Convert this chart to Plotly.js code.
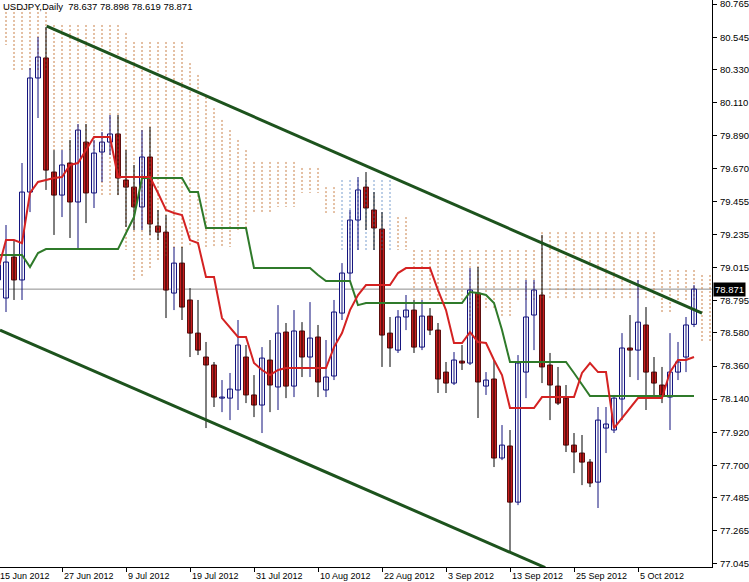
<!DOCTYPE html>
<html><head><meta charset="utf-8">
<script src="https://cdn.plot.ly/plotly-3.0.1.min.js"></script>
<style>html,body{margin:0;padding:0;background:#fff}#chart{width:749px;height:582px}</style>
</head><body><div id="chart"></div>
<script>
// ---- Data (USDJPY daily) ----
const dates = [
"15 Jun 2012","18 Jun 2012","19 Jun 2012","20 Jun 2012","21 Jun 2012","22 Jun 2012","25 Jun 2012","26 Jun 2012","27 Jun 2012","28 Jun 2012","29 Jun 2012",
"2 Jul 2012","3 Jul 2012","4 Jul 2012","5 Jul 2012","6 Jul 2012","9 Jul 2012","10 Jul 2012","11 Jul 2012","12 Jul 2012","13 Jul 2012",
"16 Jul 2012","17 Jul 2012","18 Jul 2012","19 Jul 2012","20 Jul 2012","23 Jul 2012","24 Jul 2012","25 Jul 2012","26 Jul 2012","27 Jul 2012","30 Jul 2012","31 Jul 2012",
"1 Aug 2012","2 Aug 2012","3 Aug 2012","6 Aug 2012","7 Aug 2012","8 Aug 2012","9 Aug 2012","10 Aug 2012","13 Aug 2012","14 Aug 2012","15 Aug 2012","16 Aug 2012","17 Aug 2012",
"20 Aug 2012","21 Aug 2012","22 Aug 2012","23 Aug 2012","24 Aug 2012","27 Aug 2012","28 Aug 2012","29 Aug 2012","30 Aug 2012","31 Aug 2012",
"3 Sep 2012","4 Sep 2012","5 Sep 2012","6 Sep 2012","7 Sep 2012","10 Sep 2012","11 Sep 2012","12 Sep 2012","13 Sep 2012","14 Sep 2012",
"17 Sep 2012","18 Sep 2012","19 Sep 2012","20 Sep 2012","21 Sep 2012","24 Sep 2012","25 Sep 2012","26 Sep 2012","27 Sep 2012","28 Sep 2012",
"1 Oct 2012","2 Oct 2012","3 Oct 2012","4 Oct 2012","5 Oct 2012","8 Oct 2012","9 Oct 2012","10 Oct 2012","11 Oct 2012","12 Oct 2012","15 Oct 2012","16 Oct 2012"];

const open = [78.932,78.812,79.084,78.932,79.516,80.274,80.407,79.649,79.496,79.709,79.450,
79.848,79.510,79.782,79.848,79.902,79.596,79.549,79.417,79.749,79.290,
79.250,78.845,79.044,78.799,78.579,78.420,78.367,78.147,78.147,78.201,78.420,78.168,
78.101,78.400,78.221,78.586,78.227,78.593,78.420,78.553,78.201,78.294,78.712,78.978,79.330,
79.549,79.397,79.270,78.579,78.466,78.686,78.732,78.486,78.692,78.599,
78.320,78.247,78.393,78.380,78.845,78.227,78.274,77.749,77.829,77.456,
78.320,78.699,78.832,78.367,78.227,78.147,77.835,77.782,77.722,77.589,
77.948,77.935,78.141,78.480,78.466,78.633,78.320,78.234,78.154,78.320,78.420,78.637];
const high = [79.330,79.297,79.197,79.709,80.340,80.546,80.613,79.795,79.795,79.862,79.968,
79.968,79.862,79.915,80.028,80.028,79.795,79.696,79.928,79.948,79.397,
79.363,79.151,79.151,78.878,78.799,78.520,78.387,78.267,78.314,78.666,78.500,78.300,
78.486,78.533,78.765,78.646,78.732,78.652,78.785,78.633,78.533,78.799,79.044,79.397,79.616,
79.649,79.516,79.383,78.686,78.732,78.832,78.799,78.799,78.745,78.646,
78.387,78.453,78.500,79.011,79.018,78.320,78.400,77.968,77.935,78.433,
78.932,78.932,79.231,78.447,78.354,78.234,77.915,77.902,77.742,78.088,
78.088,78.168,78.579,78.699,78.932,78.752,78.420,78.354,78.579,78.520,78.686,78.898];
const low = [78.652,78.719,78.799,78.799,79.383,80.008,79.530,79.231,79.350,79.211,79.131,
79.310,79.410,79.583,79.762,79.496,79.284,79.264,79.264,79.231,79.197,
78.679,78.732,78.666,78.420,78.433,77.948,78.088,78.054,78.001,78.068,78.114,78.021,
77.915,78.054,78.068,78.147,78.154,78.287,78.287,78.154,78.154,78.267,78.666,78.932,79.131,
79.264,79.131,78.354,78.354,78.447,78.599,78.447,78.466,78.566,78.181,
78.181,78.234,78.334,78.367,78.015,78.168,77.689,77.735,77.124,77.436,
78.147,78.466,78.247,78.001,78.101,77.789,77.649,77.569,77.556,77.417,
77.782,77.915,78.001,78.287,78.267,78.068,78.154,78.114,77.935,78.267,78.320,78.619];
const close = [79.031,79.051,78.932,79.516,80.274,80.413,79.662,79.496,79.696,79.450,79.928,
79.510,79.775,79.848,79.902,79.609,79.549,79.417,79.749,79.304,79.250,
78.865,79.044,78.752,78.579,78.466,78.367,78.154,78.154,78.207,78.500,78.168,78.101,
78.413,78.234,78.579,78.227,78.593,78.420,78.546,78.254,78.287,78.719,78.978,79.330,79.530,
79.410,79.277,78.566,78.480,78.686,78.732,78.486,78.692,78.599,78.274,
78.247,78.400,78.380,78.865,78.254,78.267,77.749,77.835,77.456,78.380,
78.686,78.865,78.354,78.234,78.114,77.835,77.789,77.722,77.583,78.001,
77.975,78.147,78.480,78.466,78.652,78.320,78.247,78.168,78.320,78.387,78.633,78.871];

const tenkan = [78.998,79.197,79.197,79.177,79.510,79.583,79.596,79.609,79.616,79.696,79.709,
79.795,79.882,79.882,79.882,79.616,79.616,79.616,79.616,79.616,79.510,
79.397,79.377,79.363,79.197,79.177,78.951,78.951,78.679,78.613,78.553,78.553,78.380,
78.334,78.300,78.334,78.347,78.347,78.347,78.347,78.347,78.347,78.486,78.579,78.732,78.832,
78.898,78.898,78.898,78.898,78.978,79.011,79.011,79.011,79.011,78.865,
78.732,78.513,78.513,78.586,78.520,78.513,78.400,78.300,78.081,78.081,
78.081,78.081,78.154,78.154,78.154,78.154,78.154,78.314,78.380,78.320,
78.320,77.948,78.015,78.081,78.147,78.147,78.147,78.147,78.320,78.400,78.400,78.420];
const kijun = [79.098,79.098,79.098,79.098,79.018,79.111,79.137,79.137,79.137,79.137,79.137,
79.137,79.137,79.137,79.137,79.137,79.244,79.350,79.609,79.609,79.609,
79.609,79.609,79.609,79.516,79.516,79.277,79.277,79.277,79.277,79.277,79.277,79.011,
79.011,79.011,79.011,79.011,79.011,79.011,79.011,78.965,78.925,78.925,78.925,78.925,78.765,
78.779,78.779,78.779,78.779,78.779,78.779,78.779,78.779,78.779,78.779,
78.779,78.779,78.779,78.852,78.845,78.832,78.779,78.599,78.387,78.387,
78.387,78.387,78.387,78.387,78.387,78.387,78.314,78.234,78.161,78.161,
78.161,78.161,78.161,78.161,78.161,78.161,78.161,78.161,78.161,78.161,78.161,78.161];

// Senkou spans (shifted 26 bars forward, so they run 2 bars past the last candle)
const spanA = [80.739,80.739,80.739,80.739,80.739,80.739,80.739,80.626,80.626,80.626,80.626,
80.626,80.626,80.626,80.626,80.626,80.573,80.513,80.513,80.513,80.513,
80.513,80.513,80.513,80.373,80.294,80.147,80.074,79.995,79.928,79.862,79.795,79.716,
79.716,79.716,79.716,79.716,79.716,79.676,79.676,79.676,79.549,79.549,79.131,79.131,79.131,
79.131,79.131,79.131,79.131,79.350,79.350,79.131,79.131,79.131,79.131,
79.131,79.131,79.131,79.131,79.131,79.131,79.131,79.131,79.131,79.131,
79.131,79.131,79.250,79.250,79.250,79.250,79.250,79.250,79.250,79.250,
79.250,79.250,79.250,79.250,79.250,79.250,79.250,78.998,78.998,78.998,78.998,78.998,78.965,78.965];
const spanB = [80.460,80.493,80.327,80.327,80.327,80.327,80.327,79.795,79.795,79.795,79.795,
79.795,79.795,79.496,79.496,79.496,79.131,78.932,78.951,78.998,79.051,
79.084,79.131,79.131,79.151,79.151,79.151,79.151,79.151,79.151,79.250,79.264,79.377,
79.377,79.377,79.417,79.417,79.417,79.510,79.510,79.510,79.377,79.377,79.609,79.609,79.609,
79.609,79.609,79.609,79.609,79.131,79.131,78.799,78.799,78.799,78.799,
78.799,78.799,78.799,78.666,78.732,78.732,78.732,78.686,78.686,78.799,
78.799,78.799,78.799,78.799,78.799,78.799,78.799,78.799,78.799,78.799,
78.799,78.799,78.799,78.799,78.799,78.799,78.799,78.712,78.712,78.799,78.799,78.799,78.513,78.513];

// Channel trend lines: [bar index, price] at both ends
const trendUpper = {x: [6.09, 88.0], y: [80.619, 78.712]};
const trendLower = {x: [0.25, 68.4], y: [78.599, 77.021]};

const yTicks = [80.765,80.545,80.330,80.110,79.890,79.670,79.455,79.235,79.015,78.795,78.580,78.360,78.140,77.920,77.700,77.485,77.265,77.045];
const symbolTitle = "USDJPY,Daily";

// ---- Build ----
const idx = dates.map((d, i) => i);
const last = dates.length - 1;
const XR = [0.25, 89.25];
const BULL_EDGE = '#10107c', BEAR_FILL = '#cc1f1f', BEAR_EDGE = '#5a0c0c';

function cloudSegs(up) {
  const xs = [], ys = [];
  for (let i = 0; i < spanA.length; i++) {
    const a = spanA[i], b = spanB[i];
    if (a == null || b == null) continue;
    if ((a >= b) === up) { xs.push(i, i, null); ys.push(a, b, null); }
  }
  return {xs, ys};
}
const cu = cloudSegs(true), cd = cloudSegs(false);

const wUp = {x:[], y:[]}, wDn = {x:[], y:[]};
idx.forEach(i => {
  const w = close[i] >= open[i] ? wUp : wDn;
  w.x.push(i, i, null); w.y.push(low[i], high[i], null);
});
const MINH = 0.004;
const bodyBase = idx.map(i => Math.min(open[i], close[i]));
const bodyLen = idx.map(i => Math.max(Math.abs(close[i] - open[i]), MINH));
const bodyFill = idx.map(i => close[i] >= open[i] ? '#ffffff' : BEAR_FILL);
const bodyEdge = idx.map(i => close[i] >= open[i] ? BULL_EDGE : BEAR_EDGE);

const traces = [
  {type:'scatter', mode:'lines', x:cu.xs, y:cu.ys, line:{color:'#c98048', width:1, dash:'2px,2px'}, hoverinfo:'skip'},
  {type:'scatter', mode:'lines', x:cd.xs, y:cd.ys, line:{color:'#7b9fcf', width:1, dash:'2px,2px'}, hoverinfo:'skip'},
  {type:'scatter', mode:'lines', x:wUp.x, y:wUp.y, line:{color:BULL_EDGE, width:1}, hoverinfo:'skip'},
  {type:'scatter', mode:'lines', x:wDn.x, y:wDn.y, line:{color:'#000000', width:1}, hoverinfo:'skip'},
  {type:'bar', x: idx, base: bodyBase, y: bodyLen, width: 0.62,
    marker:{color: bodyFill, line:{color: bodyEdge, width:1}}, hoverinfo:'skip'},
  {type:'scatter', mode:'lines', x: idx, y: kijun, line:{color:'#2f7a2a', width:2}, hoverinfo:'skip'},
  {type:'scatter', mode:'lines', x: idx, y: tenkan, line:{color:'#d42222', width:2}, hoverinfo:'skip'},
  {type:'scatter', mode:'lines', x: trendUpper.x, y: trendUpper.y, line:{color:'#1d531d', width:3}, hoverinfo:'skip'},
  {type:'scatter', mode:'lines', x: trendLower.x, y: trendLower.y, line:{color:'#1d531d', width:3}, hoverinfo:'skip'}
];

const fontFam = 'Liberation Sans, Arial, sans-serif';
const annotations = [];
for (let i = 0; i < dates.length; i += 8) {
  annotations.push({x: (i - XR[0]) / (XR[1] - XR[0]), xref:'paper', y: 0, yref:'paper', yanchor:'top', xanchor:'left', yshift:-2, xshift:0,
    text: dates[i], showarrow:false, font:{family:fontFam, size:9, color:'#000'}});
}
annotations.push({x:0, xref:'paper', y:1, yref:'paper', xanchor:'left', yanchor:'top', xshift:1, yshift:1,
  text: symbolTitle + '  ' + [open[last],high[last],low[last],close[last]].map(v=>v.toFixed(3)).join(' '),
  showarrow:false, font:{family:fontFam, size:9.5, color:'#000'}});
annotations.push({x:1, xref:'paper', y: close[last], yref:'y', xanchor:'left', yanchor:'middle', xshift:1,
  text: close[last].toFixed(3), showarrow:false, bgcolor:'#000', borderpad:1,
  font:{family:fontFam, size:9.5, color:'#fff'}});

const layout = {
  width:749, height:582, margin:{l:0, r:37, t:0, b:15},
  paper_bgcolor:'#fff', plot_bgcolor:'#fff', showlegend:false, hovermode:false, bargap:0,
  xaxis:{range:XR, showgrid:false, zeroline:false, showline:true, linecolor:'#000', linewidth:1,
    ticks:'outside', ticklen:4, tickcolor:'#000', tickmode:'array', tickvals: idx.filter(i=>i%8===0),
    showticklabels:false, fixedrange:true},
  yaxis:{side:'right', range:[77.025, 80.792], showgrid:false, zeroline:false, showline:true, linecolor:'#000', linewidth:1,
    ticks:'outside', ticklen:4, tickcolor:'#000', tickmode:'array', tickvals:yTicks, ticktext:yTicks.map(v=>v.toFixed(3)),
    tickfont:{family:fontFam, size:9.5, color:'#000'}, ticklabelstandoff:1, ticklabeloverflow:'allow', fixedrange:true},
  shapes:[{type:'line', xref:'paper', x0:0, x1:1, yref:'y', y0:close[last], y1:close[last], line:{color:'#8c8c8c', width:1}, layer:'below'}],
  annotations
};
Plotly.newPlot('chart', traces, layout, {staticPlot:true, displayModeBar:false});
</script></body></html>
